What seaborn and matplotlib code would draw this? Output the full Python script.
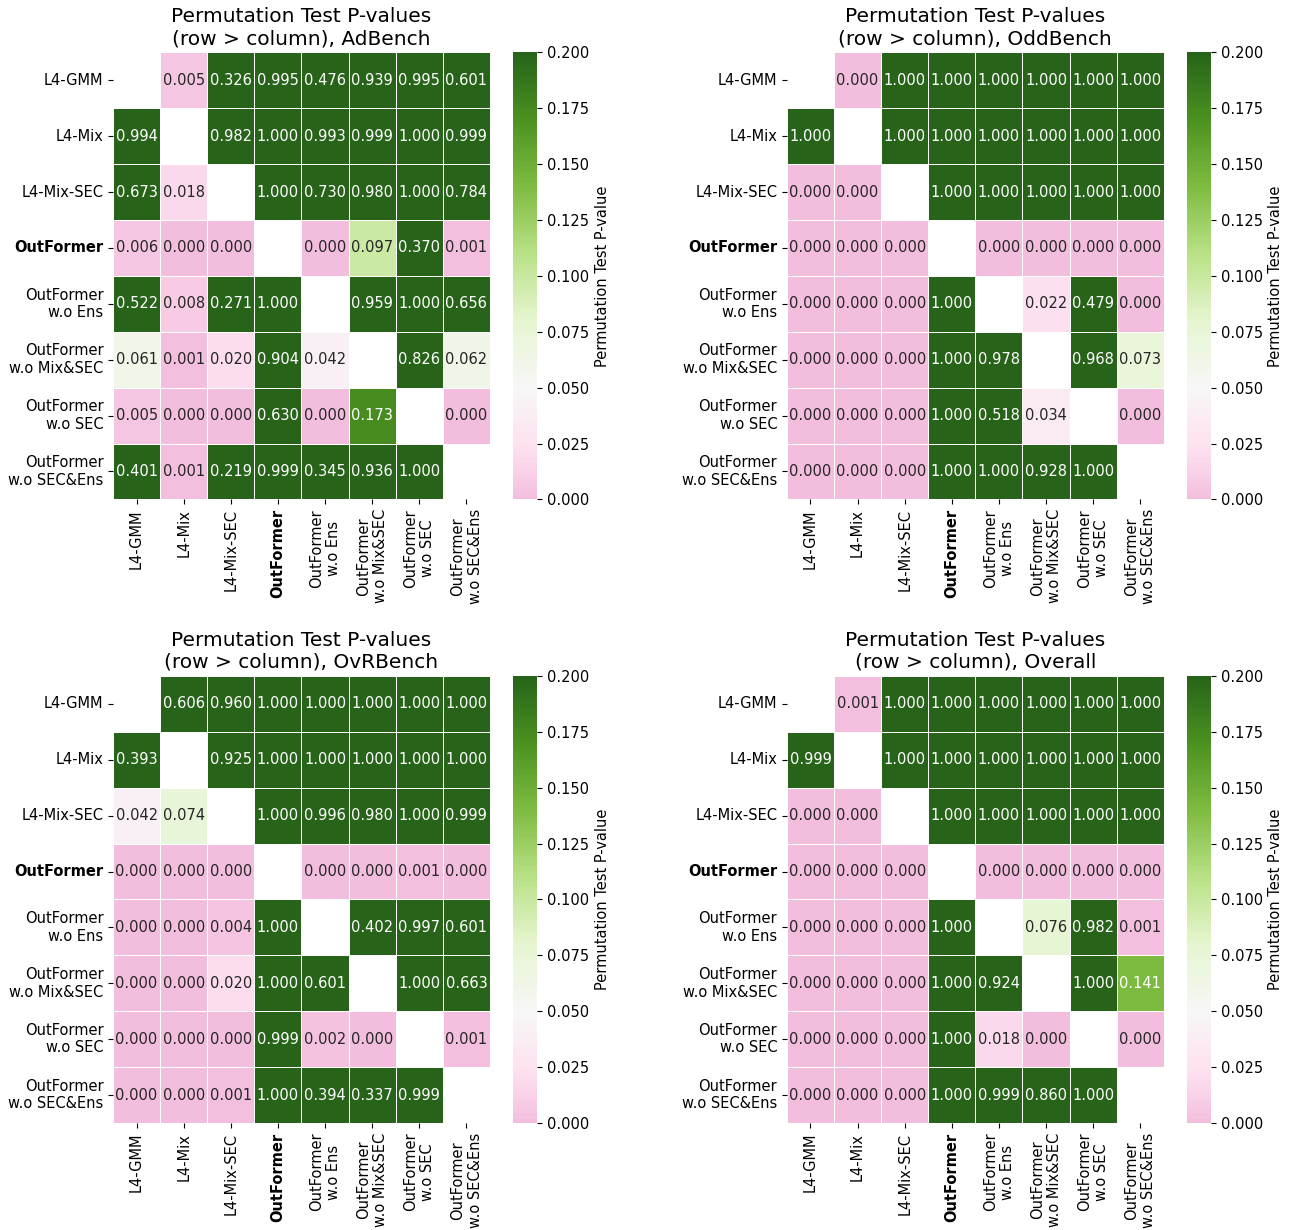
import numpy as np
import pandas as pd
import matplotlib
matplotlib.use('Agg')
import matplotlib.pyplot as plt
from matplotlib.colors import ListedColormap
import seaborn as sns

models = ['L4-GMM', 'L4-Mix', 'L4-Mix-SEC', 'OutFormer', 'OutFormer\nw.o Ens',
          'OutFormer\nw.o Mix&SEC', 'OutFormer\nw.o SEC', 'OutFormer\nw.o SEC&Ens']
nan = np.nan

adbench = [
    [nan, 0.005, 0.326, 0.995, 0.476, 0.939, 0.995, 0.601],
    [0.994, nan, 0.982, 1.000, 0.993, 0.999, 1.000, 0.999],
    [0.673, 0.018, nan, 1.000, 0.730, 0.980, 1.000, 0.784],
    [0.006, 0.000, 0.000, nan, 0.000, 0.097, 0.370, 0.001],
    [0.522, 0.008, 0.271, 1.000, nan, 0.959, 1.000, 0.656],
    [0.061, 0.001, 0.020, 0.904, 0.042, nan, 0.826, 0.062],
    [0.005, 0.000, 0.000, 0.630, 0.000, 0.173, nan, 0.000],
    [0.401, 0.001, 0.219, 0.999, 0.345, 0.936, 1.000, nan],
]
oddbench = [
    [nan, 0.000, 1.000, 1.000, 1.000, 1.000, 1.000, 1.000],
    [1.000, nan, 1.000, 1.000, 1.000, 1.000, 1.000, 1.000],
    [0.000, 0.000, nan, 1.000, 1.000, 1.000, 1.000, 1.000],
    [0.000, 0.000, 0.000, nan, 0.000, 0.000, 0.000, 0.000],
    [0.000, 0.000, 0.000, 1.000, nan, 0.022, 0.479, 0.000],
    [0.000, 0.000, 0.000, 1.000, 0.978, nan, 0.968, 0.073],
    [0.000, 0.000, 0.000, 1.000, 0.518, 0.034, nan, 0.000],
    [0.000, 0.000, 0.000, 1.000, 1.000, 0.928, 1.000, nan],
]
ovrbench = [
    [nan, 0.606, 0.960, 1.000, 1.000, 1.000, 1.000, 1.000],
    [0.393, nan, 0.925, 1.000, 1.000, 1.000, 1.000, 1.000],
    [0.042, 0.074, nan, 1.000, 0.996, 0.980, 1.000, 0.999],
    [0.000, 0.000, 0.000, nan, 0.000, 0.000, 0.001, 0.000],
    [0.000, 0.000, 0.004, 1.000, nan, 0.402, 0.997, 0.601],
    [0.000, 0.000, 0.020, 1.000, 0.601, nan, 1.000, 0.663],
    [0.000, 0.000, 0.000, 0.999, 0.002, 0.000, nan, 0.001],
    [0.000, 0.000, 0.001, 1.000, 0.394, 0.337, 0.999, nan],
]
overall = [
    [nan, 0.001, 1.000, 1.000, 1.000, 1.000, 1.000, 1.000],
    [0.999, nan, 1.000, 1.000, 1.000, 1.000, 1.000, 1.000],
    [0.000, 0.000, nan, 1.000, 1.000, 1.000, 1.000, 1.000],
    [0.000, 0.000, 0.000, nan, 0.000, 0.000, 0.000, 0.000],
    [0.000, 0.000, 0.000, 1.000, nan, 0.076, 0.982, 0.001],
    [0.000, 0.000, 0.000, 1.000, 0.924, nan, 1.000, 0.141],
    [0.000, 0.000, 0.000, 1.000, 0.018, 0.000, nan, 0.000],
    [0.000, 0.000, 0.000, 1.000, 0.999, 0.860, 1.000, nan],
]
benches = ['AdBench', 'OddBench', 'OvRBench', 'Overall']
tables = [adbench, oddbench, ovrbench, overall]

# pink below 0.05, white at 0.05, green up to 0.2
base = plt.get_cmap('PiYG')
cmap = ListedColormap(np.vstack([base(np.linspace(0.32, 0.5, 64)),
                                 base(np.linspace(0.5, 1.0, 192))]))

fig = plt.figure(figsize=(12.9, 12.3), dpi=100)
lefts = [0.0876, 0.610]
bottoms = [0.594, 0.087]
cb_lefts = [0.3977, 0.920]

for i, (name, tab) in enumerate(zip(benches, tables)):
    r, c = divmod(i, 2)
    ax = fig.add_axes([lefts[c], bottoms[r], 0.2922, 0.3634])
    cax = fig.add_axes([cb_lefts[c], bottoms[r], 0.0186, 0.3634])
    df = pd.DataFrame(tab, index=models, columns=models)
    sns.heatmap(df, ax=ax, cbar_ax=cax, cmap=cmap, vmin=0, vmax=0.2,
                annot=True, fmt='.3f', annot_kws={'fontsize': 10.5},
                linewidths=0.6, linecolor='white',
                cbar_kws={'label': 'Permutation Test P-value'})
    ax.set_title(f'Permutation Test P-values\n(row > column), {name}', fontsize=14.5)
    ax.set_xlabel('')
    ax.set_ylabel('')
    ax.tick_params(axis='x', rotation=90, labelsize=10.5)
    ax.tick_params(axis='y', rotation=0, labelsize=10.5)
    for lab in ax.get_xticklabels() + ax.get_yticklabels():
        if lab.get_text() == 'OutFormer':
            lab.set_fontweight('bold')
    cax.tick_params(labelsize=10.5)
    cax.yaxis.label.set_size(10.5)

fig.savefig('out.png', dpi=100)
